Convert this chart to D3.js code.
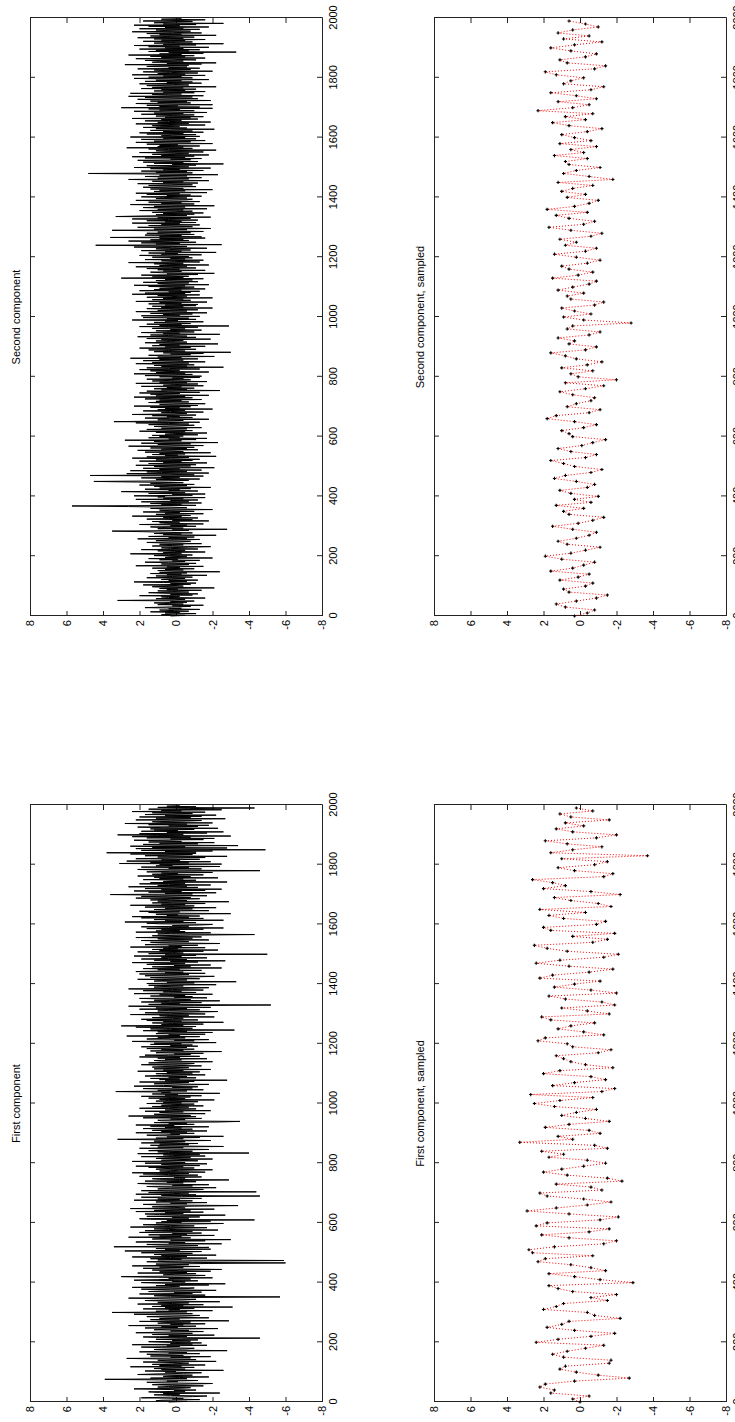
<!DOCTYPE html>
<html>
<head>
<meta charset="utf-8">
<script src="https://cdn.jsdelivr.net/npm/d3@7"></script>
<style>
  body { margin: 0; background: #fff; }
  text { font-family: "Liberation Sans", Arial, sans-serif; }
</style>
</head>
<body>
<div id="chart"></div>
<script>
// tick labels
const xTicks = [0, 200, 400, 600, 800, 1000, 1200, 1400, 1600, 1800, 2000];
const yTicks = [-8, -6, -4, -2, 0, 2, 4, 6, 8];

// continuous components, one value every 2 samples (0..1998), 20 values per row
const firstComp = [
  0.4,-0.6,1.1,0.8,-1.3,0.2,-0.4,1.9,0.6,-0.9,-1.7,0.3,1.2,-0.2,0.7,-2.4,0.9,1.5,-0.5,0.1,
  -1.1,0.6,2.3,-0.3,-0.8,1.0,0.4,-1.5,0.2,1.3,-0.7,-2.0,0.8,1.6,-0.1,0.5,-1.2,0.9,3.9,-0.6,
  1.4,-0.2,-1.8,0.7,0.3,-0.9,2.1,1.1,-0.4,-1.4,0.6,0.0,1.7,-2.6,0.8,-0.5,1.2,0.4,-1.0,2.5,
  -0.3,0.9,-1.6,1.3,0.2,-0.7,-0.1,1.8,-2.2,0.5,1.0,-1.1,0.6,2.7,-0.8,0.3,-1.9,1.4,-0.4,0.7,
  1.6,-1.3,0.4,-0.6,2.0,0.9,-2.8,0.1,1.2,-0.5,-1.0,0.8,1.9,-0.2,0.5,-1.7,2.4,-0.9,0.3,-1.4,
  0.6,1.5,-0.8,0.2,-1.2,1.1,-0.3,-4.6,0.9,1.8,-0.6,0.4,-2.1,1.3,0.0,-0.9,2.2,0.7,-1.5,0.3,
  -0.7,1.2,0.5,-2.3,1.7,-0.1,0.8,-1.1,2.6,-0.4,0.3,-1.6,1.0,0.6,-0.8,2.0,-2.9,0.4,1.4,-0.2,
  0.9,-1.8,0.2,1.6,-0.5,-1.3,0.7,2.3,-0.9,0.1,3.5,-0.6,1.1,-2.0,0.4,-0.2,1.8,-1.0,0.6,-3.1,
  1.3,-0.4,0.8,-1.5,2.1,0.2,-0.7,1.0,-2.4,0.5,1.7,-0.3,-1.1,0.9,2.6,-0.8,-5.7,0.3,1.2,-1.6,
  0.5,2.0,-0.9,0.1,-1.4,1.5,0.7,-2.2,0.3,1.9,-0.6,-1.0,2.4,0.4,-0.2,1.1,-1.8,0.6,-2.7,0.8,
  1.9,-0.5,0.2,-1.2,2.3,1.0,-0.8,0.4,-2.0,1.4,3.0,-0.3,-1.6,0.7,0.1,-1.1,2.1,-0.6,0.9,-1.9,
  -0.2,1.3,-2.5,0.6,1.8,-0.4,0.9,-1.3,2.4,0.2,-0.7,1.1,-1.8,-6.0,0.5,1.6,-0.9,-5.9,1.0,-0.3,
  1.4,-1.7,0.3,2.4,-0.6,0.8,-2.2,1.2,0.0,-0.9,1.9,0.5,-1.4,2.8,-0.2,0.6,-1.9,1.1,-0.4,-1.8,
  3.4,0.2,-1.2,0.7,1.6,-2.5,0.4,-0.5,2.2,1.0,-1.6,0.3,-3.0,1.3,0.6,-0.8,2.6,-0.3,0.9,-2.1,
  1.5,-0.6,0.2,-1.4,2.0,0.8,-0.9,1.7,-2.3,0.4,1.2,-0.1,-1.7,2.5,0.3,-1.0,0.7,1.8,-0.5,-2.6,
  1.1,-0.3,0.8,-1.9,0.5,-4.3,1.4,2.0,-0.7,0.2,-1.3,1.6,-0.2,-2.7,0.9,1.7,-0.4,0.6,-1.5,2.2,
  -0.8,1.2,0.4,-2.1,2.5,-0.5,0.1,1.3,-1.0,-3.4,0.7,1.8,-0.6,0.3,-1.7,1.1,0.5,-0.9,2.3,-0.2,
  1.0,-1.4,0.6,1.9,-0.3,-4.6,0.8,-1.1,2.2,0.2,-0.7,1.5,-4.4,0.4,1.9,-0.6,-1.5,1.0,0.3,-2.2,
  0.7,1.6,-0.9,0.2,-1.8,1.2,2.1,-0.4,0.5,-1.1,1.7,-0.2,-2.9,0.9,1.3,-0.5,0.1,-1.4,2.0,0.6,
  -1.2,0.4,1.8,-0.7,2.4,-1.6,0.3,0.9,-0.2,-2.0,1.1,0.6,-1.0,1.5,-0.4,2.2,-1.3,0.2,0.8,-1.7,
  1.7,-0.5,0.3,2.4,-1.2,0.8,-0.1,-2.0,1.1,0.5,-0.8,1.9,-1.6,0.2,0.7,-1.3,2.1,-4.0,0.4,1.0,
  -0.9,1.5,0.2,-1.8,0.6,2.0,-0.4,1.0,-2.6,0.3,1.4,-0.7,0.9,-1.2,1.9,0.1,-0.5,1.2,-1.9,0.7,
  3.2,-0.4,1.1,-1.3,0.5,-2.6,0.9,1.6,-0.2,0.3,-1.0,2.2,-0.6,0.8,-1.7,1.3,0.2,-0.9,1.8,-0.3,
  0.6,-1.8,1.4,0.1,2.2,-1.0,0.4,-0.6,1.2,-2.3,-3.5,0.8,1.0,-0.5,0.3,-1.4,1.8,-0.2,-1.1,2.6,
  -0.8,0.5,1.2,-1.6,0.2,0.9,-0.4,1.7,-1.9,0.6,0.0,-1.1,2.0,0.4,-0.7,1.3,-1.5,0.8,0.3,-1.0,
  1.6,-0.3,0.7,-1.2,1.1,0.4,-2.1,0.9,-0.5,1.5,0.2,-0.8,1.9,-1.4,0.6,-0.1,1.3,-2.4,0.8,0.3,
  3.3,-0.6,1.0,-1.5,0.5,1.8,-0.9,0.2,-1.2,2.3,0.7,-0.4,-1.8,1.2,0.1,-0.7,2.0,-1.0,0.6,-2.8,
  0.9,-0.2,1.4,-1.1,0.4,-0.6,1.7,0.8,-1.6,0.3,1.1,-0.9,0.5,-1.3,2.1,-0.4,0.7,-1.9,1.2,0.0,
  -0.7,1.3,0.6,-1.4,0.2,1.9,-0.5,-1.0,1.5,0.4,-2.0,0.8,1.2,-0.3,0.6,-1.7,1.0,-0.2,2.0,-1.3,
  0.4,1.7,-0.8,0.1,-1.5,1.1,0.5,-2.5,1.4,-0.4,0.8,-1.0,1.6,0.2,-0.6,1.9,-1.2,0.3,-0.9,1.4,
  -0.3,1.2,-2.2,0.6,2.4,-1.0,0.1,-1.8,1.6,0.7,-0.5,1.0,-1.3,2.7,-0.2,0.4,-1.6,1.1,0.5,-2.0,
  1.0,-0.6,1.8,-3.2,0.3,1.4,-0.9,0.6,2.2,-1.1,3.0,-0.4,0.8,-1.5,0.2,1.3,-2.6,0.7,-0.3,1.6,
  -1.2,1.9,0.2,-0.4,1.3,-2.1,0.5,0.9,-0.7,2.5,-1.6,0.3,1.7,-0.7,-2.3,1.0,0.4,-1.3,2.0,-0.6,
  1.1,-1.9,0.6,2.6,-1.0,-5.2,1.5,-0.2,0.8,-1.4,1.9,0.3,-2.4,1.2,-0.8,0.5,2.0,-1.7,0.1,-0.9,
  1.4,-0.5,0.9,-2.0,2.3,0.4,-1.1,0.7,-0.3,1.8,-1.5,0.2,2.6,-0.8,-1.8,1.2,0.6,-0.4,1.5,-2.2,
  0.3,1.6,-1.0,0.5,-3.3,1.2,0.8,-0.6,2.1,-1.3,0.2,1.4,-0.9,-2.1,1.7,0.4,-0.7,2.0,-1.6,0.6,
  -0.4,2.2,0.7,-1.4,1.0,-0.2,1.8,-2.5,0.5,1.3,-0.8,0.1,-1.9,1.6,0.9,-0.5,2.4,-1.2,0.3,-2.7,
  1.2,-0.6,1.9,0.4,-1.7,0.8,-0.3,2.3,-1.1,0.6,-5.0,1.5,-0.4,0.2,2.1,-1.5,0.9,-2.3,1.3,-0.1,
  0.7,-1.6,2.5,-0.3,0.4,-1.2,1.7,0.9,-2.4,0.2,1.4,-0.7,-0.2,1.9,-1.8,0.6,1.0,-0.9,2.2,-1.4,
  0.5,1.3,-0.8,-4.3,1.0,0.3,-1.9,2.2,-0.5,1.1,-0.2,0.8,-1.5,1.6,-2.6,0.4,1.9,-0.7,0.2,-1.3,
  -2.0,0.9,1.6,-1.1,2.8,-0.4,0.6,-2.6,1.2,0.3,-1.5,1.9,-0.7,2.4,-1.3,0.5,-0.1,1.1,-3.0,0.7,
  1.5,-0.2,2.0,-1.8,0.4,1.2,-0.9,0.6,-2.2,1.7,0.1,-1.0,2.5,-0.5,0.8,-1.6,1.3,0.2,-2.9,1.0,
  -0.6,1.4,0.3,-1.3,2.2,-0.8,0.5,1.9,-1.7,0.9,3.6,-0.9,0.6,-2.2,1.5,-0.3,2.3,-1.6,0.8,-2.5,
  1.7,0.1,-1.2,2.6,-0.6,1.0,-1.9,0.4,2.0,-0.5,1.4,-2.8,0.7,0.2,-1.1,1.8,-0.4,0.9,-2.3,1.2,
  -0.8,2.1,0.5,-1.5,1.3,-0.1,0.8,-2.0,1.6,0.3,-4.6,0.6,2.1,-1.4,0.4,-0.7,1.9,-2.4,1.1,0.2,
  0.9,-2.5,3.1,-0.7,1.4,-1.9,2.7,-0.2,0.8,-1.3,2.2,0.4,-1.6,1.0,-2.8,1.7,0.3,-0.9,2.5,-1.1,
  3.8,-1.1,0.6,-2.0,1.9,-4.9,0.6,2.2,-2.8,1.3,-0.5,2.5,-3.4,0.7,1.8,-1.2,0.9,-2.1,1.5,-0.3,
  0.5,2.3,-1.5,0.3,-2.1,1.6,-0.8,2.4,-3.0,1.0,3.2,-0.4,2.0,-1.7,0.5,-2.6,1.9,-0.1,1.2,-1.0,
  1.4,-2.3,0.7,2.1,-1.2,0.4,-1.8,1.5,-0.6,2.8,-2.0,0.9,1.3,-0.5,-1.4,2.2,0.3,-2.7,1.1,-0.8,
  2.0,-1.4,0.6,-2.2,1.7,0.2,-0.9,1.3,-1.6,2.4,-0.3,0.8,-2.5,1.5,-0.7,-4.3,1.0,-1.1,0.5,-0.2
];

const secondComp = [
  0.3,-0.5,0.8,0.2,-1.1,0.6,-0.2,1.4,-0.7,0.1,0.9,-1.3,0.4,-0.3,1.7,0.5,-0.8,0.2,-1.5,1.0,
  -0.4,0.7,1.2,-0.6,0.3,-1.0,3.2,0.1,-0.5,1.1,-1.6,0.4,0.8,-0.2,2.0,-0.9,0.3,-1.2,0.6,1.5,
  -0.7,0.2,1.0,-1.4,0.5,-0.1,0.9,-2.1,0.6,1.3,-0.4,0.0,1.8,-0.8,0.3,-1.1,0.7,2.3,-0.6,0.4,
  -1.2,0.8,0.3,-0.5,1.6,-0.9,0.2,1.1,-1.7,0.5,-0.3,1.4,-0.6,0.9,-2.4,0.2,1.0,-0.4,0.6,-1.0,
  1.3,-0.2,0.5,-1.5,2.2,0.1,-0.7,0.8,-1.1,0.4,1.7,-0.5,0.2,-1.3,0.9,-0.1,1.5,-2.0,0.6,0.3,
  -0.6,1.2,-0.9,0.4,2.5,-0.3,0.7,-1.6,0.1,1.0,-0.5,1.9,-1.2,0.3,0.8,-0.7,-1.9,1.3,0.2,-0.4,
  0.9,-1.4,0.5,1.6,-0.2,-0.8,1.1,0.3,-1.3,2.1,-0.6,0.4,-1.0,1.5,0.0,-2.2,0.7,-0.3,1.2,-0.9,
  0.6,1.8,3.5,-0.7,0.2,-2.8,1.0,-0.4,0.8,1.4,-1.1,0.3,-0.6,2.0,-1.5,0.5,0.9,-0.2,1.3,-1.8,
  0.2,-0.9,1.6,0.4,-1.2,0.7,-0.3,2.4,-0.8,0.1,1.1,-1.5,0.6,-0.2,1.8,-1.0,0.3,0.9,-2.0,0.5,
  1.4,-0.6,0.2,2.6,5.7,-1.1,0.8,-0.3,1.4,-1.4,0.5,1.9,-0.7,0.3,-1.2,2.2,-0.4,0.7,-1.6,1.0,
  0.6,2.3,-0.9,0.2,-1.6,1.5,-0.5,1.0,3.0,-1.2,0.4,-0.2,1.7,-0.8,0.9,-1.9,0.3,1.2,-0.6,2.0,
  -1.0,0.7,1.4,-0.4,2.1,4.5,0.4,-0.7,1.1,-1.3,0.6,1.9,-0.2,0.8,-1.5,4.7,-1.0,0.3,2.7,-1.8,
  0.8,1.6,-0.6,2.5,-1.4,0.9,-0.2,1.8,-2.1,0.5,1.2,-0.8,2.2,-1.1,0.4,1.5,-1.7,0.7,-0.3,2.0,
  -0.9,1.1,-1.3,0.3,2.4,-0.7,1.6,-2.2,0.6,-0.1,1.3,-0.5,0.9,-1.9,1.7,-0.4,0.2,2.1,-1.2,0.8,
  -0.6,1.4,-1.0,0.5,2.6,-1.5,0.1,1.0,-0.8,1.9,-2.3,0.7,1.2,-0.3,2.8,-1.1,0.4,-1.7,1.5,-0.2,
  0.9,-0.4,1.3,-1.2,0.6,0.2,-1.7,1.1,-0.5,2.0,-0.9,0.3,1.6,-0.6,0.8,-1.4,0.4,1.2,-0.2,-1.0,
  1.5,-0.7,0.4,2.2,-1.3,3.4,0.6,-0.4,1.0,-1.8,0.3,1.7,-0.9,0.5,-0.2,1.3,-1.1,2.4,0.1,-0.6,
  0.8,-1.5,0.3,1.8,-0.5,1.0,-2.0,0.6,-0.2,1.4,-0.8,2.3,-1.2,0.4,0.9,-1.6,0.2,1.5,-0.7,1.1,
  -0.3,0.9,-1.4,1.7,0.2,-0.9,2.3,-0.5,1.1,-1.8,0.6,1.4,-0.2,2.0,-1.3,0.4,1.6,-2.4,0.8,-0.6,
  1.2,-1.0,0.5,-0.3,1.9,-1.5,0.7,0.1,-1.2,2.2,-0.6,0.9,-1.7,1.3,0.3,-0.8,1.6,-0.4,0.2,-1.3,
  0.9,-1.4,1.7,0.2,-0.9,2.3,-0.5,1.1,-1.8,0.6,1.4,-0.2,2.0,-1.3,0.4,1.6,-2.6,0.8,-0.6,1.2,
  -1.0,0.5,2.2,-0.7,1.3,-1.6,0.1,1.8,-0.4,0.9,-1.2,2.5,-0.3,1.0,-2.1,0.6,1.5,-0.8,0.3,-1.5,
  0.7,-3.0,1.2,-0.5,0.4,1.5,-1.1,0.2,2.0,-0.8,0.6,-1.6,1.3,-0.2,0.9,-2.3,0.5,1.7,-0.6,0.3,
  1.1,-0.4,0.8,-1.9,1.6,0.2,-1.1,2.1,-0.6,0.4,1.4,-2.4,0.7,-0.2,1.9,-1.0,0.5,1.1,-1.4,0.3,
  -0.5,1.3,0.4,-1.2,2.0,-2.9,0.9,-0.3,1.6,-0.8,0.2,1.2,-1.5,0.6,-0.1,2.4,-1.1,0.5,-0.7,1.8,
  0.5,-1.3,1.9,-0.2,0.7,-0.9,1.4,-1.7,0.3,2.2,-0.6,1.0,-1.2,0.4,1.6,-2.0,0.8,-0.4,1.3,-1.1,
  0.6,-1.2,1.5,-0.3,0.9,-1.7,2.2,0.1,-0.8,1.3,-0.4,0.7,-2.0,1.6,0.3,-0.6,1.0,-1.3,2.4,-0.5,
  1.7,-0.8,0.4,-1.3,2.0,-0.3,1.2,-1.6,0.9,0.2,-1.0,1.5,-0.5,2.3,-1.8,0.6,1.0,-0.7,1.8,-1.2,
  0.4,1.1,-0.9,0.6,-1.5,3.0,-0.4,1.3,-0.7,0.2,1.9,-1.2,0.5,-2.1,0.8,1.4,-0.3,0.7,-1.6,1.0,
  -0.2,1.6,-1.1,0.3,2.2,-0.6,0.9,-1.8,0.5,1.2,-0.4,2.6,-1.3,0.1,0.8,-1.5,1.7,-0.5,0.3,-0.9,
  1.3,-0.7,0.5,2.0,-1.4,0.8,-0.1,1.5,-2.2,0.6,-0.3,1.9,-0.8,0.4,1.1,-1.7,0.2,2.3,-0.6,1.0,
  4.4,-2.5,1.1,-0.2,1.9,-1.1,0.6,2.6,-0.7,1.4,-0.4,0.9,-1.6,3.6,-1.4,0.9,-0.3,1.7,-1.0,0.5,
  1.6,-0.8,1.0,-1.5,0.7,3.5,-0.6,1.2,-1.9,0.4,2.1,-0.9,0.3,1.5,-1.3,0.8,-0.2,2.4,-1.1,0.6,
  -0.3,1.6,-1.2,0.4,2.4,-0.8,1.0,-1.9,3.3,1.7,-0.6,1.1,-1.0,0.7,-1.5,1.3,0.1,-0.9,2.0,-0.4,
  1.0,-1.7,0.6,1.8,-0.5,1.2,-2.1,0.3,2.5,-1.0,0.8,-0.3,1.5,-1.3,0.4,2.2,-0.6,-0.9,1.1,-0.6,
  0.7,1.9,-1.4,0.5,-0.8,1.6,-0.2,2.2,-1.7,0.3,1.2,-0.5,0.9,-2.0,1.4,-0.4,0.6,1.8,-1.1,0.2,
  1.5,-0.9,0.3,2.1,-1.2,0.7,-0.4,1.3,-1.8,0.5,2.6,-0.7,1.0,-1.4,0.2,1.7,-0.6,0.9,-2.3,1.1,
  4.8,-0.9,1.1,-0.6,1.9,-1.5,0.7,-0.2,1.4,-1.9,2.3,-0.7,0.5,1.6,-1.1,0.2,-2.6,1.2,-0.4,1.8,
  -1.2,0.6,2.1,-0.8,0.3,-1.4,1.7,-0.5,2.4,-1.0,0.8,-1.8,1.3,0.1,-0.7,2.0,-1.5,0.6,1.1,-2.2,
  0.4,1.5,-0.9,2.7,-0.4,1.0,-1.3,0.9,-0.1,1.6,-2.0,0.5,2.2,-0.8,1.2,-1.6,0.3,1.9,-1.1,0.7,
  -0.5,2.5,-1.3,0.8,0.2,-1.1,1.6,-0.4,2.0,-1.5,0.7,-0.9,1.4,0.3,-2.1,1.1,-0.6,1.8,-0.2,0.9,
  1.3,-1.6,0.5,2.2,-0.7,1.0,-1.9,0.4,1.7,-0.3,0.8,-1.2,2.4,-0.8,0.6,-1.5,1.1,0.2,-1.0,1.9,
  -0.4,1.2,-1.7,0.6,2.3,-1.0,0.9,-0.2,1.5,-2.0,3.0,-1.3,0.9,-0.1,1.6,-2.0,0.5,2.2,-0.8,1.0,
  -0.6,1.4,-1.9,0.8,2.1,-1.2,0.2,1.7,-0.9,2.6,-1.5,0.4,1.3,-0.3,2.5,-1.0,0.7,-1.6,1.2,-0.5,
  0.8,-1.1,1.9,-0.4,1.3,-2.2,0.6,1.6,-0.7,0.2,2.0,-1.4,0.5,-0.9,1.7,-0.3,1.1,-1.8,0.4,2.3,
  -0.9,1.5,-0.3,0.7,-1.6,2.4,-0.5,1.0,-1.2,0.3,1.8,-2.0,0.6,1.2,-0.8,2.1,-1.3,0.4,-0.6,1.6,
  1.0,-0.7,2.8,-1.4,0.5,-2.2,1.3,0.9,-0.4,1.7,-1.1,0.2,2.2,-1.6,0.8,-0.5,1.4,-1.0,2.6,-0.3,
  0.9,-1.5,0.4,-3.3,1.5,-0.7,1.1,-1.3,2.0,-0.4,0.6,-1.8,1.5,-0.2,2.3,-1.1,0.7,-2.6,1.2,0.3,
  -0.9,1.8,-0.5,0.8,-1.6,1.2,-0.4,2.1,-1.0,0.5,1.4,-2.2,0.9,-0.3,1.6,-1.4,0.2,2.4,-0.8,0.6,
  1.1,-1.3,2.0,-0.4,0.6,-1.8,1.5,-0.2,2.3,-1.1,0.7,-2.6,1.2,0.3,-0.9,1.8,-0.5,-1.6,0.8,-0.3
];

// sampled components, one value every 10 samples (0..1990)
const firstSampled = [
  0.0,0.4,-0.5,1.6,1.4,2.2,1.9,0.3,-2.7,-1.0,0.2,1.1,0.8,-1.6,-1.7,0.9,1.5,0.7,-0.3,-1.3,
  2.4,1.2,-0.6,-1.9,0.3,1.8,1.0,0.6,-2.2,-0.8,-0.4,2.0,1.3,0.9,-1.5,-0.6,-2.0,0.4,1.2,1.7,
  -2.9,-1.1,0.3,1.7,-1.4,-0.6,0.5,2.3,1.9,-0.7,2.6,2.8,1.4,-1.3,-2.0,0.6,2.1,-0.5,-1.6,2.4,
  1.8,-1.1,-2.1,0.6,2.9,1.3,-0.4,-1.7,-0.2,1.8,2.2,-1.2,-0.6,1.3,-2.3,-1.5,0.7,2.0,1.0,-0.2,
  -1.4,-0.4,1.7,0.9,2.1,-1.5,-0.8,3.3,0.4,1.2,-1.1,-0.5,1.9,0.6,-1.6,-0.3,1.0,0.2,-0.9,1.4,
  2.5,1.1,-0.7,2.7,-1.2,-1.9,1.5,0.3,-1.4,-0.6,2.0,1.1,-1.8,-0.3,0.5,0.9,1.3,-1.0,-1.7,0.4,
  0.7,2.3,1.9,-1.3,-0.2,1.2,0.5,-0.8,1.6,2.1,-1.6,-0.4,1.0,-1.9,-1.2,0.8,1.7,-2.0,-0.6,1.4,
  0.3,-1.1,2.2,1.5,-0.5,-1.8,0.6,2.4,1.1,-1.3,-2.1,0.7,1.8,2.5,-0.7,-1.5,0.4,-1.9,1.6,2.0,
  -0.9,-1.4,0.9,1.7,-0.3,2.2,-1.7,-1.0,0.5,1.4,-2.2,-0.6,2.0,0.8,1.5,2.6,-1.3,-1.8,0.3,1.2,
  -0.8,-1.5,1.0,-3.7,1.6,0.4,-1.2,0.7,1.9,-0.9,-2.0,0.4,1.3,-0.2,0.8,-1.6,0.5,1.1,-0.7,0.2
];

const secondSampled = [
  0.3,-0.4,-0.8,0.8,1.3,0.2,-0.9,-1.5,0.6,0.9,-0.3,-0.7,1.1,0.1,-0.5,1.6,0.4,-0.2,-0.8,1.0,
  1.9,0.5,-0.3,-1.1,0.7,1.2,0.2,-0.5,-0.9,0.4,1.5,0.1,-0.7,-1.3,0.6,0.9,-0.2,1.3,-0.6,0.3,
  -1.0,0.5,1.1,-0.4,-0.8,0.2,1.4,0.8,-0.6,-1.2,0.3,0.9,1.6,-0.3,-0.9,0.5,1.2,-0.1,-0.7,-1.4,
  0.4,0.6,1.0,-0.2,-0.9,0.3,1.8,1.3,-0.5,-1.1,0.7,0.2,-0.6,-0.8,0.4,1.1,-0.3,-1.3,0.8,-2.0,
  0.1,0.5,-0.7,1.0,-0.4,-1.2,0.2,0.8,1.6,-0.3,-0.9,0.6,0.3,1.2,-0.5,-1.1,0.7,0.4,-2.8,-0.2,
  0.9,-0.6,0.3,1.0,-0.8,-1.3,0.5,0.7,-0.2,1.2,0.4,-0.5,-0.9,1.5,0.1,-0.7,0.6,1.0,-0.4,-1.1,
  0.2,1.4,-0.3,-0.9,0.8,0.2,1.1,-0.6,-1.2,0.5,1.7,-0.2,-0.8,0.6,1.3,-0.4,1.8,0.3,-0.5,-1.0,
  0.7,-0.3,1.0,0.4,-0.7,1.2,-1.8,-0.5,0.9,0.2,-1.1,0.6,0.8,-0.4,1.4,-0.2,0.5,-0.9,1.1,-0.6,
  0.3,1.0,-0.4,-1.2,0.6,1.5,-0.3,0.8,-0.7,2.3,0.4,-0.5,1.2,-0.9,0.2,1.6,-0.6,-1.3,0.9,0.5,
  -0.2,1.3,1.9,-0.8,-1.4,0.7,1.1,-0.3,-0.9,0.5,1.6,0.3,-1.2,0.9,-0.5,1.2,0.4,-1.0,-0.3,0.6
];

const W = 735, H = 1422;

const svg = d3.select("#chart").append("svg")
    .attr("width", W)
    .attr("height", H);

// the figure is drawn landscape and turned a quarter turn
const fig = svg.append("g")
    .attr("transform", "translate(0," + H + ") rotate(-90)");

const cols = [[20, 617], [806, 1404]];
const rows = [[30, 322], [434, 726]];

const panels = [
  { title: "First component", values: firstComp, step: 2, col: 0, row: 0, sampled: false },
  { title: "Second component", values: secondComp, step: 2, col: 1, row: 0, sampled: false },
  { title: "First component, sampled", values: firstSampled, step: 10, col: 0, row: 1, sampled: true },
  { title: "Second component, sampled", values: secondSampled, step: 10, col: 1, row: 1, sampled: true }
];

panels.forEach(p => {
  const x = d3.scaleLinear().domain([0, 2000]).range(cols[p.col]);
  const y = d3.scaleLinear().domain([-8, 8]).range([rows[p.row][1], rows[p.row][0]]);
  const pts = p.values.map((v, i) => [i * p.step, v]);

  const g = fig.append("g");

  // box with inward ticks on all four sides
  g.append("g")
      .attr("transform", "translate(0," + y(-8) + ")")
      .call(d3.axisBottom(x).tickValues(xTicks).tickSizeInner(-5).tickSizeOuter(0)
            .tickPadding(7).tickFormat(d => String(d)));
  g.append("g")
      .attr("transform", "translate(0," + y(8) + ")")
      .call(d3.axisTop(x).tickValues(xTicks).tickSizeInner(-5).tickSizeOuter(0).tickFormat(""));
  g.append("g")
      .attr("transform", "translate(" + x(0) + ",0)")
      .call(d3.axisLeft(y).tickValues(yTicks).tickSizeInner(-5).tickSizeOuter(0)
            .tickPadding(4).tickFormat(d => String(d)));
  g.append("g")
      .attr("transform", "translate(" + x(2000) + ",0)")
      .call(d3.axisRight(y).tickValues(yTicks).tickSizeInner(-5).tickSizeOuter(0).tickFormat(""));

  g.selectAll(".tick text")
      .attr("fill", "#000")
      .style("font-size", "11px");
  g.selectAll(".domain, .tick line").attr("stroke", "#222");

  const line = d3.line().x(d => x(d[0])).y(d => y(d[1]));

  if (!p.sampled) {
    g.append("path")
        .datum(pts)
        .attr("fill", "none")
        .attr("stroke", "#000")
        .attr("stroke-width", 1)
        .attr("d", line);
  } else {
    g.append("path")
        .datum(pts)
        .attr("fill", "none")
        .attr("stroke", "#ff0000")
        .attr("stroke-width", 1)
        .attr("stroke-dasharray", "1,2")
        .attr("d", line);
    g.selectAll(".mark")
        .data(pts)
      .enter().append("path")
        .attr("class", "mark")
        .attr("transform", d => "translate(" + x(d[0]) + "," + y(d[1]) + ")")
        .attr("d", "M-1.6,0H1.6M0,-1.6V1.6")
        .attr("stroke", "#000")
        .attr("stroke-width", 1.1);
  }

  // title
  g.append("text")
      .attr("x", (x(0) + x(2000)) / 2)
      .attr("y", y(8) - 10)
      .attr("text-anchor", "middle")
      .style("font-size", "11px")
      .text(p.title);
});
</script>
</body>
</html>
